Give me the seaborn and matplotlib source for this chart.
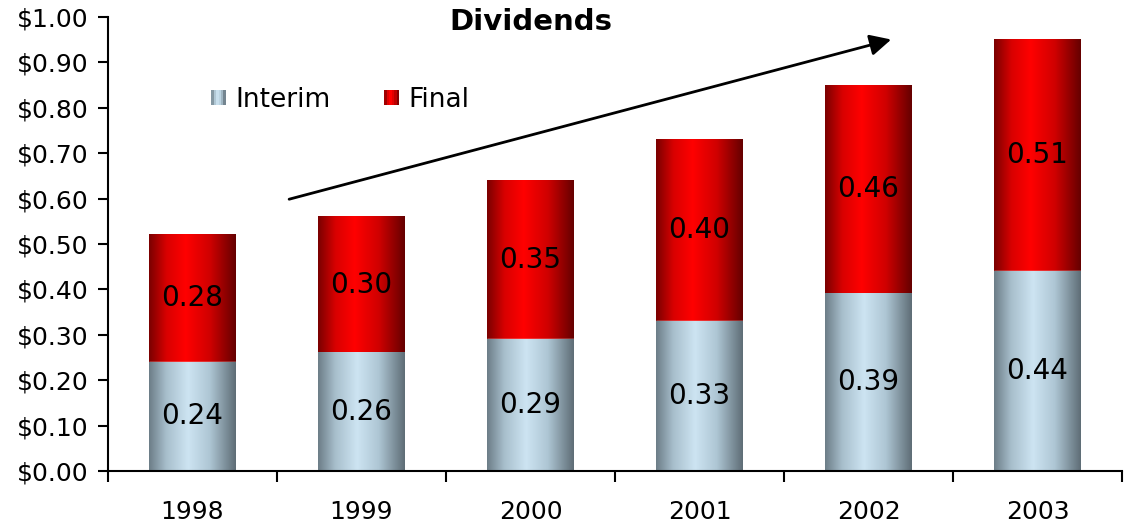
import numpy as np
import pandas as pd
import matplotlib
matplotlib.use('Agg')
import matplotlib.pyplot as plt
import seaborn as sns
from matplotlib.colors import LinearSegmentedColormap
from matplotlib.legend_handler import HandlerBase
from matplotlib.patches import Rectangle
from matplotlib.ticker import FuncFormatter, FixedLocator

# data
years = ['1998', '1999', '2000', '2001', '2002', '2003']
interim = [0.24, 0.26, 0.29, 0.33, 0.39, 0.44]
final = [0.28, 0.30, 0.35, 0.40, 0.46, 0.51]

df = pd.DataFrame({'year': years, 'interim': interim, 'final': final})
df['total'] = df['interim'] + df['final']

sns.set_style('white')
plt.rcParams['font.family'] = ['DejaVu Sans']
plt.rcParams['text.color'] = 'black'
plt.rcParams['xtick.color'] = 'black'
plt.rcParams['ytick.color'] = 'black'
plt.rcParams['xtick.labelcolor'] = 'black'
plt.rcParams['ytick.labelcolor'] = 'black'

# horizontal "cylinder" gradients
blue_cmap = LinearSegmentedColormap.from_list(
    'interim', [(0, '#6c7d87'), (0.2, '#a8bfcc'), (0.45, '#cde4f2'),
                (0.7, '#aec6d4'), (1, '#5e6d76')])
red_cmap = LinearSegmentedColormap.from_list(
    'final', [(0, '#7a0000'), (0.2, '#d80000'), (0.42, '#ff0000'),
              (0.7, '#d00000'), (1, '#650000')])
grad = np.linspace(0, 1, 256).reshape(1, -1)

fig, ax = plt.subplots(figsize=(11.27, 5.25), dpi=100)
fig.subplots_adjust(left=0.0958, right=0.9956, bottom=0.103, top=0.9676)

# stacked bars: totals first (Final), then Interim on top
sns.barplot(data=df, x='year', y='total', color='#ff0000', width=0.51,
            saturation=1, ax=ax, zorder=2)
n = len(df)
sns.barplot(data=df, x='year', y='interim', color='#c8e0ee', width=0.51,
            saturation=1, ax=ax, zorder=3)

tot_patches = ax.patches[:n]
int_patches = ax.patches[n:2 * n]
for tp, ip in zip(tot_patches, int_patches):
    x0 = tp.get_x()
    x1 = x0 + tp.get_width()
    top = tp.get_height()
    mid = ip.get_height()
    ax.imshow(grad, cmap=red_cmap, aspect='auto', extent=(x0, x1, mid, top),
              zorder=2.5, interpolation='bicubic')
    ax.imshow(grad, cmap=blue_cmap, aspect='auto', extent=(x0, x1, 0, mid),
              zorder=3.5, interpolation='bicubic')

# value labels
for i, (a, b) in enumerate(zip(interim, final)):
    ax.text(i, a / 2, f'{a:.2f}', ha='center', va='center', fontsize=20,
            color='black', zorder=5)
    ax.text(i, a + b / 2, f'{b:.2f}', ha='center', va='center', fontsize=20,
            color='black', zorder=5)

ax.set_xlim(-0.5, n - 0.5)
ax.set_ylim(0, 1.0)
ax.set_yticks(np.arange(0, 1.01, 0.1))
ax.yaxis.set_major_formatter(FuncFormatter(lambda v, p: f'${v:.2f}'))
ax.set_xlabel('')
ax.set_ylabel('')

for s in ['top', 'right']:
    ax.spines[s].set_visible(False)
for s in ['left', 'bottom']:
    ax.spines[s].set_linewidth(1.5)
    ax.spines[s].set_color('black')
    ax.spines[s].set_zorder(6)

ax.tick_params(axis='y', direction='out', length=7, width=1.5, labelsize=18, pad=7, left=True)
ax.tick_params(axis='x', which='major', length=0, labelsize=18, pad=21)
ax.xaxis.set_minor_locator(FixedLocator(np.arange(-0.5, n, 1.0)))
ax.tick_params(axis='x', which='minor', direction='out', length=8, width=1.5, bottom=True)

# title inside the plot area
ax.text(0.417, 0.99, 'Dividends', transform=ax.transAxes, ha='center', va='center',
        fontsize=21, fontweight='bold', color='black')

# trend arrow
ax.annotate('', xy=(4.15, 0.952), xytext=(0.556, 0.597),
            arrowprops=dict(arrowstyle='-|>', lw=2, color='black', mutation_scale=32),
            zorder=6)


class GradientHandler(HandlerBase):
    def __init__(self, cmap):
        super().__init__()
        self.cmap = cmap

    def create_artists(self, legend, orig_handle, xdescent, ydescent,
                       width, height, fontsize, trans):
        size = min(width, height)
        x0 = -xdescent + (width - size) / 2
        y0 = -ydescent + (height - size) / 2
        arts = []
        k = 6
        for j in range(k):
            c = self.cmap((j + 0.5) / k)
            r = Rectangle((x0 + j * size / k, y0), size / k, size, facecolor=c,
                          edgecolor='none', transform=trans)
            arts.append(r)
        return arts


h1 = Rectangle((0, 0), 1, 1)
h2 = Rectangle((0, 0), 1, 1)
ax.legend([h1, h2], ['Interim', 'Final'], ncol=2, frameon=False, fontsize=19,
          loc='center left', bbox_to_anchor=(0.102, 0.817), borderaxespad=0,
          borderpad=0, handlelength=0.55, handleheight=0.55, handletextpad=0.35,
          columnspacing=2.05,
          handler_map={h1: GradientHandler(blue_cmap), h2: GradientHandler(red_cmap)})

plt.savefig('out.png', dpi=100)
